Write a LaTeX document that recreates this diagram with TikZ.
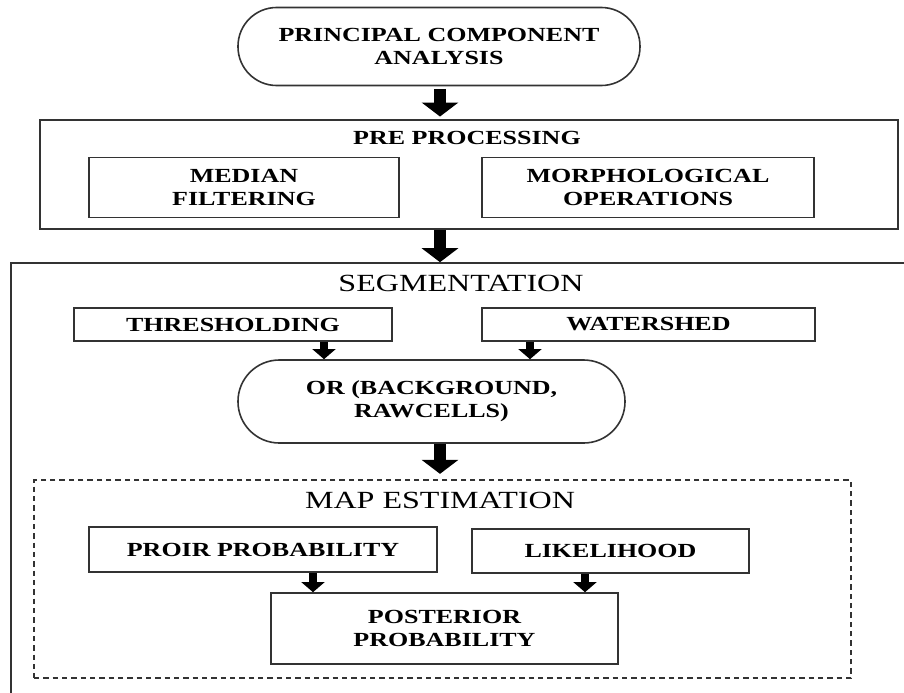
\documentclass[tikz,border=0pt]{standalone}
\usepackage{fontspec}
\newfontfamily\diagfont{Liberation Serif}[FakeStretch=1.3]
\usetikzlibrary{arrows.meta}

\tikzset{
	stage/.style={draw=black!80, line width=1.2pt, rectangle, inner sep=0pt, align=center,
		font=\diagfont\bfseries\fontsize{15}{17}\selectfont},
	heading/.style={inner sep=0pt, font=\diagfont\fontsize{18.5}{20}\selectfont},
	bigarrow/.style={line width=9pt, -{Triangle[length=10.5pt,width=27pt]}},
	smallarrow/.style={line width=6pt, -{Triangle[length=7.5pt,width=17pt]}}
}

\begin{document}
\begin{tikzpicture}[x=0.75pt,y=-0.75pt]
		\clip (0,0) rectangle (904,693);
		\fill[white] (0,0) rectangle (904,693);
		
		\node[stage, rounded corners=29pt, minimum width=301.5pt, minimum height=58.5pt] (pca) at (439,46.5) {PRINCIPAL COMPONENT\\ANALYSIS};
		
		% pre processing
		\node[stage, minimum width=643.5pt, minimum height=81.75pt] (pre) at (469,174.5) {};
		\node[stage, draw=none] (pretitle) at (467,138) {PRE PROCESSING};
		\node[stage, minimum width=232.5pt, minimum height=45pt] (median) at (244,187.5) {MEDIAN\\FILTERING};
		\node[stage, minimum width=249pt, minimum height=45pt] (morph) at (648,187.5) {MORPHOLOGICAL\\OPERATIONS};
		
		% segmentation
		\node[stage, minimum width=689.25pt, minimum height=342.75pt] (seg) at (470.5,491.5) {};
		\node[heading] (segtitle) at (461,283) {SEGMENTATION};
		\node[stage, minimum width=238.5pt, minimum height=24.75pt] (thresh) at (233,324.5) {THRESHOLDING};
		\node[stage, minimum width=249.75pt, minimum height=24.75pt] (water) at (648.5,324.5) {WATERSHED};
		\node[stage, rounded corners=31pt, minimum width=290.25pt, minimum height=62.25pt] (or) at (431.5,401.5) {OR (BACKGROUND,\\RAWCELLS)};
		
		% map estimation
		\node[stage, dashed, dash pattern=on 4pt off 3pt, minimum width=612.75pt, minimum height=148.5pt] (map) at (442.5,579) {};
		\node[heading] (maptitle) at (440,500) {MAP ESTIMATION};
		\node[stage, minimum width=261pt, minimum height=33.75pt] (prior) at (263,549.5) {PROIR PROBABILITY};
		\node[stage, minimum width=207.75pt, minimum height=33pt] (like) at (610.5,551) {LIKELIHOOD};
		\node[stage, minimum width=260.25pt, minimum height=53.25pt] (post) at (444.5,628.5) {POSTERIOR\\PROBABILITY};
		
		\coordinate (axis) at (440,0);
		\coordinate (ta) at (324,0);
		\coordinate (wa) at (530,0);
		\coordinate (pa) at (313,0);
		\coordinate (la) at (585,0);
		
		\draw[bigarrow, shorten <=2pt, shorten >=2pt] (pca.south -| axis) -- (pre.north -| axis);
		\draw[bigarrow] (pre.south -| axis) -- (seg.north -| axis);
		\draw[bigarrow, shorten >=4pt] (or.south -| axis) -- (map.north -| axis);
		
		\draw[smallarrow] (thresh.south -| ta) -- (or.north -| ta);
		\draw[smallarrow] (water.south -| wa) -- (or.north -| wa);
		\draw[smallarrow] (prior.south -| pa) -- (post.north -| pa);
		\draw[smallarrow] (like.south -| la) -- (post.north -| la);
\end{tikzpicture}
\end{document}
